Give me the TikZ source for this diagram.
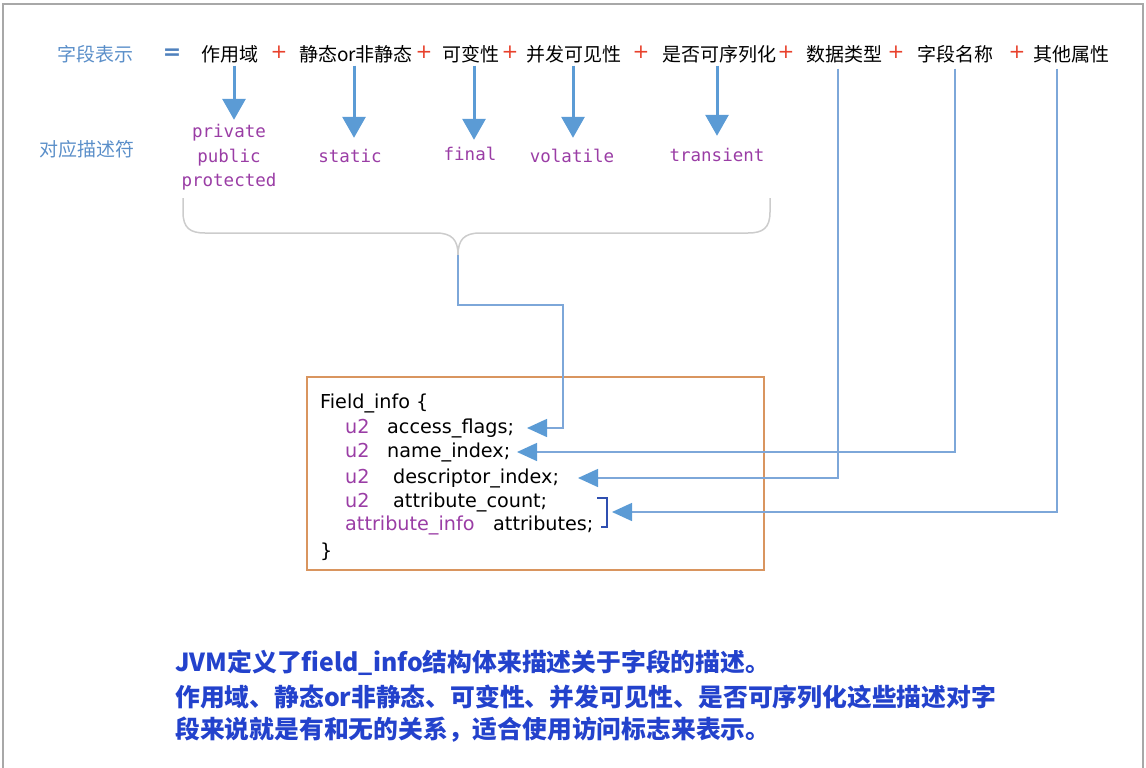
\documentclass[tikz,border=0pt]{standalone}
\usepackage{fontspec}
\usetikzlibrary{arrows.meta}
\newfontfamily\cjk{Noto Sans CJK SC}
\newfontfamily\monof{DejaVu Sans Mono}
\newfontfamily\codef{DejaVu Sans}
\definecolor{lblblue}{HTML}{5B8FC9}
\definecolor{eqblue}{HTML}{4F81BD}
\definecolor{plusred}{HTML}{E8412C}
\definecolor{kwpurple}{HTML}{9A3DA5}
\definecolor{arrblue}{HTML}{5B9BD5}
\definecolor{lineblue}{HTML}{7DA7D9}
\definecolor{braceg}{HTML}{CCCCCC}
\definecolor{boxorange}{HTML}{D9955F}
\definecolor{brkblue}{HTML}{2F4FB0}
\definecolor{notblue}{HTML}{2342CC}
\definecolor{framegray}{HTML}{A8A8A8}
\tikzset{
  toplbl/.style={inner sep=0pt, text height=15pt, text depth=4pt, font=\cjk\fontsize{19}{23}\selectfont},
  sidelbl/.style={toplbl, text=lblblue},
  plus/.style={inner sep=0pt, text=plusred, font=\codef\fontsize{20}{24}\selectfont},
  kw/.style={inner sep=0pt, text height=12pt, text depth=4pt, text=kwpurple, font=\monof\fontsize{17.5}{20}\selectfont},
  code/.style={anchor=west, inner sep=0pt, text height=14pt, text depth=4pt, font=\codef\fontsize{19.2}{22}\selectfont},
  codekw/.style={code, text=kwpurple},
  note/.style={anchor=west, inner sep=0pt, text=notblue, font=\cjk\bfseries\fontsize{24.8}{28}\selectfont},
  bigarr/.style={draw=arrblue, line width=3pt, -{Triangle[length=21pt,width=23pt]}},
  conn/.style={draw=lineblue, line width=1.5pt, -{Triangle[length=20pt,width=18pt,color=arrblue,fill=arrblue]}},
  bracegr/.style={draw=braceg, line width=1.5pt},
}
\begin{document}
\begin{tikzpicture}[x=1pt,y=-1pt]
\useasboundingbox (0,0) rectangle (1146,768);
% frame
\draw[framegray, line width=2pt] (3,768) -- (3,4) -- (1143,4) -- (1143,768);

% top row
\node[sidelbl] (zdbs) at (95,56) {字段表示};
\node[inner sep=0pt, text=eqblue, font=\codef\bfseries\fontsize{22}{24}\selectfont] (eq) at (172,54) {=};
\node[toplbl] (zy) at (230,56) {作用域};
\node[plus] (p1) at (279,52) {+};
\node[toplbl] (jt) at (356,56) {静态or非静态};
\node[plus] (p2) at (424,52) {+};
\node[toplbl] (kbx) at (471,56) {可变性};
\node[plus] (p3) at (510,52) {+};
\node[toplbl] (bf) at (574,56) {并发可见性};
\node[plus] (p4) at (641,52) {+};
\node[toplbl] (xl) at (719,56) {是否可序列化};
\node[plus] (p5) at (786,52) {+};
\node[toplbl] (sjlx) at (844,56) {数据类型};
\node[plus] (p6) at (896,52) {+};
\node[toplbl] (zdmc) at (955,56) {字段名称};
\node[plus] (p7) at (1017,52) {+};
\node[toplbl] (qtsx) at (1071,56) {其他属性};

\node[sidelbl] (dyms) at (87,151) {对应描述符};

% keywords
\node[kw] (priv) at (229,133) {private};
\node[kw] (pub) at (229,158) {public};
\node[kw] (prot) at (229,182) {protected};
\node[kw] (sta) at (350,158) {static};
\node[kw] (fin) at (470,156) {final};
\node[kw] (vol) at (572,158) {volatile};
\node[kw] (tra) at (717,157) {transient};

% thick arrows
\draw[bigarr, shorten >=5pt] ([xshift=4pt]zy.south) coordinate (s1) -- (s1 |- priv.north);
\draw[bigarr, shorten >=12pt] ([xshift=-2pt]jt.south) coordinate (s2) -- (s2 |- sta.north);
\draw[bigarr, shorten >=8pt] ([xshift=3pt]kbx.south) coordinate (s3) -- (s3 |- fin.north);
\draw[bigarr, shorten >=12pt] ([xshift=-1pt]bf.south) coordinate (s4) -- (s4 |- vol.north);
\draw[bigarr, shorten >=13pt] ([xshift=-2pt]xl.south) coordinate (s5) -- (s5 |- tra.north);

% brace
\coordinate (bt) at (458,255);
\draw[bracegr] (183,198) -- (183,212) .. controls (183,228) and (190,233) .. (205,233) -- (436,233) .. controls (452,233) and (458,240) .. (bt);
\draw[bracegr] (770,198) -- (770,212) .. controls (770,228) and (763,233) .. (748,233) -- (480,233) .. controls (464,233) and (458,240) .. (bt);

% struct box
\draw[boxorange, line width=1.5pt] (307,377) rectangle (764,570);
\node[code] (f0) at (320,403) {Field\_info \{};
\node[codekw] (u1) at (345,428) {u2};
\node[code] (acc) at (387,428) {access\_flags;};
\node[codekw] (u2) at (345,452) {u2};
\node[code] (nam) at (387,452) {name\_index;};
\node[codekw] (u3) at (345,478) {u2};
\node[code] (des) at (393,478) {descriptor\_index;};
\node[codekw] (u4) at (345,502) {u2};
\node[code] (cnt) at (393,502) {attribute\_count;};
\node[codekw] (ai) at (345,525) {attribute\_info};
\node[code] (atr) at (493,525) {attributes;};
\node[code] (cl) at (320,552) {\}};

% bracket
\draw[brkblue, line width=1.5pt] (597,498) -- (607,498) -- (607,527) -- (601,527);

% connectors
\coordinate (tipA) at (527,428);
\coordinate (tipN) at (517,452);
\coordinate (tipD) at (578,478);
\coordinate (tipT) at (612,512);
\draw[conn] (bt) -- (458,305) -| (563,428) -- (tipA);
\draw[conn] ([xshift=-6pt,yshift=-3pt]sjlx.south) |- (tipD);
\draw[conn] ([yshift=-3pt]zdmc.south) |- (tipN);
\draw[conn] ([xshift=-14pt,yshift=-3pt]qtsx.south) |- (tipT);

% note
\node[note] (n1) at (175,663) {JVM定义了field\_info结构体来描述关于字段的描述。};
\node[note] (n2) at (175,697) {作用域、静态or非静态、可变性、并发可见性、是否可序列化这些描述对字};
\node[note] (n3) at (175,730) {段来说就是有和无的关系，适合使用访问标志来表示。};
\end{tikzpicture}
\end{document}
